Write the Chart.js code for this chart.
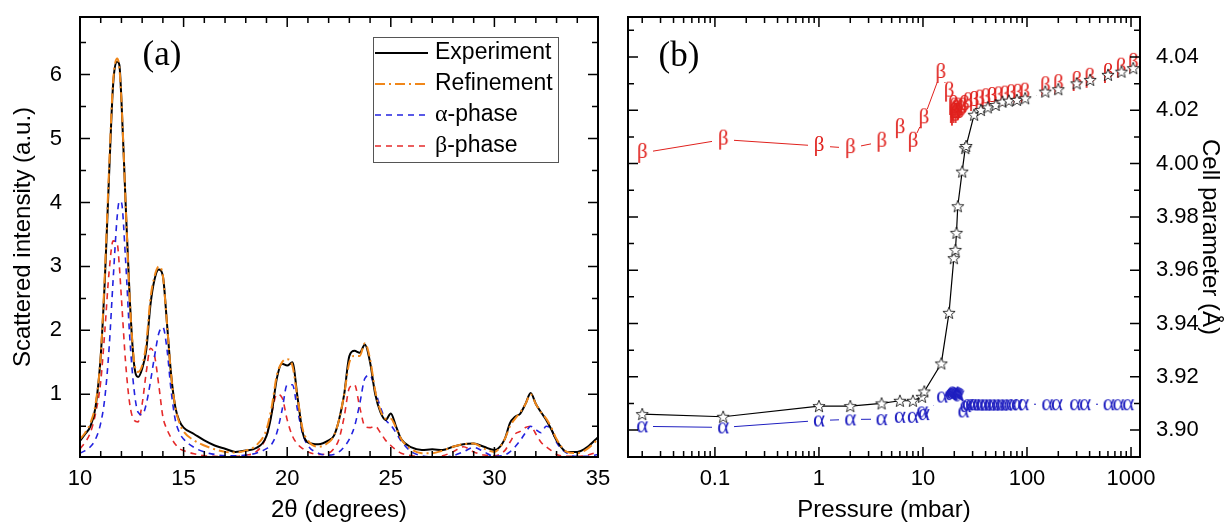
<!DOCTYPE html>
<html>
<head>
<meta charset="utf-8">
<script src="https://cdn.jsdelivr.net/npm/chart.js@4.4.1/dist/chart.umd.min.js"></script>
<style>
html, body { margin: 0; padding: 0; background: #fff; }
#wrap { position: relative; width: 1227px; height: 525px; overflow: hidden; }
canvas { position: absolute; top: 0; }
#cA { left: 0; }
#cB { left: 613px; }
</style>
</head>
<body>
<div id="wrap">
  <canvas id="cA" width="613" height="525"></canvas>
  <canvas id="cB" width="614" height="525"></canvas>
</div>
<script>
// ---------- panel (a): diffraction pattern ----------
const twoTheta = [
  10, 10.25, 10.5, 10.75, 11,
  11.2, 11.4, 11.6, 11.8, 11.9, 12.0,
  12.2, 12.4, 12.6, 12.8, 13.0,
  13.2, 13.4, 13.6, 13.8, 14.0,
  14.2, 14.4, 14.6, 14.8, 15.0,
  15.5, 16, 16.5, 17, 17.5, 18, 18.5,
  19, 19.25, 19.5, 19.75, 20, 20.25, 20.5, 20.75,
  21, 21.5, 22, 22.25, 22.5, 22.75,
  23, 23.25, 23.5, 23.75, 24, 24.25, 24.5, 24.75,
  25, 25.25, 25.5, 26, 26.5, 27, 27.5,
  28, 28.5, 29, 29.5, 30, 30.5, 30.75,
  31, 31.25, 31.5, 31.75, 32, 32.25, 32.5, 32.75,
  33, 33.5, 34, 34.5, 35
];
const experiment = [
  0.27, 0.38, 0.5, 0.8, 1.6,
  2.8, 4.4, 5.85, 6.2, 6.15, 5.6,
  4.0, 2.5, 1.5, 1.27, 1.4,
  1.7, 2.4, 2.8, 2.95, 2.85,
  2.1, 1.3, 0.8, 0.58, 0.48,
  0.38, 0.28, 0.2, 0.15, 0.1, 0.12, 0.16,
  0.35, 0.7, 1.25, 1.48, 1.45, 1.5, 0.95, 0.4,
  0.25, 0.22, 0.28, 0.35, 0.6, 1.0,
  1.6, 1.68, 1.65, 1.78, 1.5, 1.0, 0.72, 0.6,
  0.7, 0.5, 0.3, 0.17, 0.13, 0.14, 0.13,
  0.18, 0.22, 0.23, 0.18, 0.13, 0.3, 0.55,
  0.65, 0.7, 0.85, 1.02, 0.85, 0.72, 0.6, 0.45,
  0.28, 0.1, 0.1, 0.18, 0.33
];
const refinement = [
  0.3, 0.4, 0.55, 0.85, 1.6,
  2.9, 4.5, 5.9, 6.25, 6.1, 5.6,
  4.0, 2.5, 1.55, 1.35, 1.45,
  1.8, 2.5, 2.85, 3.0, 2.85,
  2.1, 1.3, 0.8, 0.55, 0.42,
  0.28, 0.2, 0.14, 0.1, 0.09, 0.12, 0.2,
  0.45, 0.8, 1.3, 1.5, 1.55, 1.45, 0.95, 0.45,
  0.28, 0.18, 0.25, 0.35, 0.6, 1.0,
  1.5, 1.6, 1.6, 1.8, 1.55, 1.05, 0.75, 0.62,
  0.62, 0.48, 0.3, 0.14, 0.08, 0.08, 0.12,
  0.18, 0.22, 0.23, 0.15, 0.1, 0.3, 0.5,
  0.62, 0.72, 0.85, 1.0, 0.85, 0.72, 0.62, 0.48,
  0.3, 0.1, 0.08, 0.15, 0.3
];
const alphaPhase = [
  0.08, 0.12, 0.18, 0.3, 0.55,
  0.95, 1.7, 2.8, 3.8, 4.02, 4.0,
  3.1, 1.9, 1.1, 0.72, 0.68,
  0.85, 1.2, 1.6, 1.95, 2.05,
  1.7, 1.05, 0.6, 0.4, 0.3,
  0.17, 0.1, 0.06, 0.04, 0.04, 0.05, 0.08,
  0.15, 0.22, 0.4, 0.75, 1.15, 1.15, 0.75, 0.38,
  0.2, 0.08, 0.05, 0.06, 0.1, 0.18,
  0.3, 0.5, 0.85, 1.25, 1.3, 1.05, 0.8, 0.6,
  0.52, 0.4, 0.27, 0.1, 0.04, 0.02, 0.02,
  0.04, 0.1, 0.17, 0.1, 0.03, 0.05, 0.1,
  0.18, 0.28, 0.4, 0.5, 0.45, 0.4, 0.5, 0.45,
  0.25, 0.08, 0.03, 0.03, 0.06
];
const betaPhase = [
  0.15, 0.25, 0.4, 0.7, 1.2,
  2.0, 2.9, 3.4, 3.35, 3.0, 2.5,
  1.5, 0.85, 0.6, 0.57, 0.85,
  1.35, 1.72, 1.6, 1.15, 0.65,
  0.45, 0.32, 0.22, 0.15, 0.12,
  0.07, 0.04, 0.03, 0.02, 0.03, 0.05, 0.1,
  0.35, 0.7, 1.0, 0.95, 0.6, 0.35, 0.22, 0.15,
  0.1, 0.06, 0.08, 0.15, 0.3, 0.65,
  1.1, 1.15, 0.8, 0.5, 0.48, 0.5, 0.4, 0.28,
  0.2, 0.13, 0.08, 0.04, 0.02, 0.02, 0.04,
  0.1, 0.18, 0.1, 0.05, 0.04, 0.12, 0.25,
  0.38, 0.42, 0.48, 0.5, 0.38, 0.25, 0.18, 0.12,
  0.06, 0.03, 0.03, 0.05, 0.1
];

// ---------- panel (b): cell parameter vs pressure ----------
const starP = [0.02, 0.12, 1, 2, 4, 6, 8, 9.8, 10.3, 15,
  17.8, 19.8, 20.5, 21, 21.6, 23.8, 25.5, 26, 31, 36,
  42, 50, 58, 67, 80, 96, 150, 200, 300, 405,
  600, 810, 1050];
const starCell = [3.906, 3.905, 3.909, 3.909, 3.910, 3.911, 3.911, 3.9125, 3.9145, 3.925,
  3.944, 3.9645, 3.9676, 3.974, 3.984, 3.997, 4.0058, 4.0066, 4.0183, 4.0201,
  4.0211, 4.022, 4.0232, 4.0236, 4.0239, 4.0245, 4.027, 4.0279, 4.0301, 4.0314,
  4.0333, 4.0345, 4.0358];

const betaP = [0.02, 0.12, 1, 2, 4, 6, 8, 10.2, 14.8, 17.8,
  19.5, 19.8, 20, 20.3, 20.6, 21, 21.5, 22, 23, 24,
  25, 27, 31, 35, 40, 46, 53, 61, 70, 81,
  95, 150, 200, 300, 400, 600, 800, 1050];
const betaCell = [4.004, 4.009, 4.0066, 4.0058, 4.0082, 4.0133, 4.0082, 4.017, 4.034, 4.027,
  4.022, 4.019, 4.021, 4.018, 4.02, 4.019, 4.021, 4.019, 4.02, 4.021,
  4.022, 4.023, 4.0235, 4.024, 4.0245, 4.025, 4.0252, 4.0255, 4.026, 4.0262,
  4.0266, 4.029, 4.0298, 4.031, 4.0322, 4.034, 4.036, 4.0378];

const alphaP = [0.02, 0.12, 1, 2, 4, 6, 8, 9.85, 10.2, 15.3,
  18.5, 19, 19.5, 20, 20.5, 21, 21.5, 22, 24.5, 25.7,
  27, 29, 31, 34, 37, 40, 44, 48, 53, 58,
  64, 71, 80, 92, 157, 194, 291, 362, 610, 756,
  940];
const alphaCell = [3.9014, 3.901, 3.9036, 3.904, 3.9041, 3.905, 3.905, 3.907, 3.906, 3.9126,
  3.9135, 3.914, 3.9145, 3.9142, 3.914, 3.9138, 3.9135, 3.913, 3.907, 3.909,
  3.9097, 3.9097, 3.9097, 3.9096, 3.9096, 3.9096, 3.9096, 3.9096, 3.9096, 3.9096,
  3.9096, 3.9097, 3.9097, 3.9097, 3.9097, 3.9097, 3.9097, 3.9097, 3.9097, 3.9097,
  3.9097];

// tick labels
const xTicksA = [10, 15, 20, 25, 30, 35];
const yTicksA = [1, 2, 3, 4, 5, 6];
const xTicksB = [0.1, 1, 10, 100, 1000];
const yTicksB = [3.90, 3.92, 3.94, 3.96, 3.98, 4.00, 4.02, 4.04];

const SANS = "'Liberation Sans', Arial, sans-serif";
const SERIF = "'Liberation Serif', 'Times New Roman', serif";
Chart.defaults.font.family = SANS;
Chart.defaults.font.size = 22;
Chart.defaults.color = '#000';

const RED = '#E0211D', BLUE = '#1F1FC0';

function pts(xs, ys) { return xs.map((x, i) => ({x: x, y: ys[i]})); }
function steps(a, b, s) { const r = []; for (let v = a; v <= b + 1e-9; v += s) r.push(+v.toFixed(6)); return r; }
function logMinor(a, b) {
  const r = [];
  for (let e = Math.floor(Math.log10(a)); e <= Math.ceil(Math.log10(b)); e++)
    for (let m = 2; m <= 9; m++) { const v = m * Math.pow(10, e); if (v > a && v < b) r.push(v); }
  return r;
}

// marker images
function glyph(ch, color, size) {
  const c = document.createElement('canvas');
  c.width = 20; c.height = 26;
  const g = c.getContext('2d');
  g.font = size + 'px ' + SERIF;
  g.fillStyle = color;
  g.textAlign = 'center';
  g.textBaseline = 'alphabetic';
  const m = g.measureText(ch);
  g.fillText(ch, 10, 13 + (m.actualBoundingBoxAscent - m.actualBoundingBoxDescent) / 2);
  return c;
}
function blank(w, h) {
  const c = document.createElement('canvas');
  c.width = w; c.height = h;
  const g = c.getContext('2d');
  g.fillStyle = '#fff';
  g.fillRect(0, 0, w, h);
  return c;
}
function star() {
  const c = document.createElement('canvas');
  c.width = 16; c.height = 16;
  const g = c.getContext('2d');
  g.beginPath();
  for (let i = 0; i < 10; i++) {
    const r = i % 2 ? 2.7 : 6.4;
    const a = -Math.PI / 2 + i * Math.PI / 5;
    g.lineTo(8 + r * Math.cos(a), 8.5 + r * Math.sin(a));
  }
  g.closePath();
  g.fillStyle = '#fff'; g.fill();
  g.lineWidth = 0.8; g.strokeStyle = '#000'; g.stroke();
  return c;
}

// frame + inward ticks + panel tag
const frameTicks = {
  id: 'frameTicks',
  afterDatasetsDraw(chart, args, o) {
    const {ctx, chartArea: a} = chart;
    const xs = chart.scales.x, ys = chart.scales.y;
    ctx.save();
    ctx.strokeStyle = '#000';
    ctx.lineWidth = 1.5;
    ctx.beginPath();
    const tx = (v, len) => {
      const p = xs.getPixelForValue(v);
      if (p < a.left + 1 || p > a.right - 1) return;
      ctx.moveTo(p, a.bottom); ctx.lineTo(p, a.bottom - len);
      ctx.moveTo(p, a.top); ctx.lineTo(p, a.top + len);
    };
    const ty = (v, len) => {
      const p = ys.getPixelForValue(v);
      if (p < a.top + 1 || p > a.bottom - 1) return;
      ctx.moveTo(a.left, p); ctx.lineTo(a.left + len, p);
      ctx.moveTo(a.right, p); ctx.lineTo(a.right - len, p);
    };
    o.xMajor.forEach(v => tx(v, 10));
    o.xMinor.forEach(v => tx(v, 6));
    o.yMajor.forEach(v => ty(v, 10));
    o.yMinor.forEach(v => ty(v, 6));
    ctx.stroke();
    ctx.lineWidth = 2;
    ctx.strokeRect(a.left, a.top, a.width, a.height);
    ctx.fillStyle = '#000';
    ctx.font = '35px ' + SERIF;
    ctx.textAlign = 'center';
    ctx.textBaseline = 'middle';
    ctx.fillText(o.tag, a.left + o.tagDx, a.top + o.tagDy);
    ctx.restore();
  }
};

// legend box drawn inside panel (a)
const boxLegend = {
  id: 'boxLegend',
  afterDraw(chart, args, o) {
    if (!o.show) return;
    const {ctx, chartArea: a} = chart;
    const x0 = a.left + 293, y0 = a.top + 20, w = 185, h = 125;
    ctx.save();
    ctx.fillStyle = '#fff';
    ctx.fillRect(x0, y0, w, h);
    ctx.strokeStyle = '#555';
    ctx.lineWidth = 1;
    ctx.strokeRect(x0 + 0.5, y0 + 0.5, w, h);
    chart.data.datasets.forEach((ds, k) => {
      const yy = y0 + 16 + k * 31;
      ctx.strokeStyle = ds.borderColor;
      ctx.lineWidth = ds.borderWidth;
      ctx.setLineDash(ds.borderDash || []);
      ctx.beginPath(); ctx.moveTo(x0 + 2, yy); ctx.lineTo(x0 + 55, yy); ctx.stroke();
      ctx.setLineDash([]);
      ctx.fillStyle = '#000';
      ctx.textBaseline = 'middle';
      ctx.textAlign = 'left';
      let tx = x0 + 62;
      let label = ds.label;
      if (/^[α-ω]/.test(label)) {
        ctx.font = '24px ' + SERIF;
        ctx.fillText(label[0], tx, yy);
        tx += ctx.measureText(label[0]).width;
        label = label.slice(1);
      }
      ctx.font = '23px ' + SANS;
      ctx.fillText(label, tx, yy);
    });
    ctx.restore();
  }
};

// ---- chart (a) ----
new Chart(document.getElementById('cA'), {
  type: 'line',
  data: {
    datasets: [
      { label: 'Experiment', data: pts(twoTheta, experiment), borderColor: '#000', borderWidth: 2, order: 1 },
      { label: 'Refinement', data: pts(twoTheta, refinement), borderColor: '#F0871A', borderWidth: 2, borderDash: [10, 4, 2, 4], order: 0 },
      { label: 'α-phase', data: pts(twoTheta, alphaPhase), borderColor: '#2323E0', borderWidth: 1.6, borderDash: [6, 5], order: 2 },
      { label: 'β-phase', data: pts(twoTheta, betaPhase), borderColor: '#E52A2A', borderWidth: 1.6, borderDash: [6, 5], order: 3 }
    ]
  },
  options: {
    responsive: false,
    animation: false,
    layout: { autoPadding: false, padding: { left: 0, top: 17, right: 15, bottom: 0 } },
    elements: { point: { radius: 0 }, line: { cubicInterpolationMode: 'monotone', fill: false } },
    plugins: {
      legend: { display: false },
      tooltip: { enabled: false },
      frameTicks: { xMajor: xTicksA, xMinor: steps(10, 35, 1), yMajor: yTicksA, yMinor: steps(0.5, 6.5, 1), tag: '(a)', tagDx: 82, tagDy: 39 },
      boxLegend: { show: true }
    },
    scales: {
      x: {
        type: 'linear', min: 10, max: 35,
        grid: { display: false }, border: { display: false },
        ticks: { stepSize: 5, padding: 1, maxRotation: 0, autoSkip: false,
          callback: v => xTicksA.includes(v) ? String(v) : '' },
        title: { display: true, text: '2θ (degrees)', font: { size: 24 }, padding: { top: 0, bottom: 0 } },
        afterFit: s => { s.height = 68; s.paddingLeft = 0; s.paddingRight = 0; }
      },
      y: {
        type: 'linear', min: 0.02, max: 6.9,
        grid: { display: false }, border: { display: false },
        ticks: { stepSize: 1, padding: 10, autoSkip: false,
          callback: v => yTicksA.includes(v) ? String(v) : '' },
        title: { display: true, text: 'Scattered intensity (a.u.)', font: { size: 24 }, padding: { top: 9, bottom: 0 } },
        afterFit: s => { s.width = 80; s.paddingTop = 0; s.paddingBottom = 0; }
      }
    }
  },
  plugins: [frameTicks, boxLegend]
});

// ---- chart (b) ----
// lines first, then white gaps behind the character symbols, then the symbols
const lineOnly = { pointRadius: 0, fill: false };
const symOnly = { showLine: false, pointRadius: 5 };
new Chart(document.getElementById('cB'), {
  type: 'line',
  data: {
    datasets: [
      Object.assign({ label: 'a', data: pts(starP, starCell), borderColor: '#000', borderWidth: 1.2, order: 7 }, lineOnly),
      Object.assign({ label: 'β', data: pts(betaP, betaCell), borderColor: RED, borderWidth: 1, order: 6 }, lineOnly),
      Object.assign({ label: 'α', data: pts(alphaP, alphaCell), borderColor: BLUE, borderWidth: 1, order: 5 }, lineOnly),
      Object.assign({ label: 'β gap', data: pts(betaP, betaCell), pointStyle: blank(22, 18), order: 4 }, symOnly),
      Object.assign({ label: 'α gap', data: pts(alphaP, alphaCell), pointStyle: blank(22, 16), order: 3 }, symOnly),
      Object.assign({ label: 'β sym', data: pts(betaP, betaCell), pointStyle: glyph('β', RED, 21), order: 2 }, symOnly),
      Object.assign({ label: 'α sym', data: pts(alphaP, alphaCell), pointStyle: glyph('α', BLUE, 23), order: 1 }, symOnly),
      Object.assign({ label: 'a sym', data: pts(starP, starCell), pointStyle: star(), order: 0 }, symOnly)
    ]
  },
  options: {
    responsive: false,
    animation: false,
    layout: { autoPadding: false, padding: { left: 15, top: 17, right: 0, bottom: 0 } },
    elements: { line: { tension: 0, fill: false } },
    plugins: {
      legend: { display: false },
      tooltip: { enabled: false },
      frameTicks: { xMajor: xTicksB, xMinor: logMinor(0.0146, 1220), yMajor: steps(3.90, 4.04, 0.02), yMinor: steps(3.89, 4.05, 0.02), tag: '(b)', tagDx: 51, tagDy: 40 },
      boxLegend: { show: false }
    },
    scales: {
      x: {
        type: 'logarithmic', min: 0.0146, max: 1220,
        grid: { display: false }, border: { display: false },
        ticks: { padding: 1, maxRotation: 0, autoSkip: false,
          callback: v => { const t = xTicksB.find(d => Math.abs(v - d) / d < 1e-6); return t === undefined ? '' : String(t); } },
        title: { display: true, text: 'Pressure (mbar)', font: { size: 24 }, padding: { top: 0, bottom: 0 } },
        afterFit: s => { s.height = 68; s.paddingLeft = 0; s.paddingRight = 0; }
      },
      y: {
        type: 'linear', position: 'right', min: 3.8899, max: 4.055,
        grid: { display: false }, border: { display: false },
        ticks: { stepSize: 0.02, padding: 8, autoSkip: false,
          callback: v => { const t = yTicksB.find(d => Math.abs(v - d) < 1e-6); return t === undefined ? '' : t.toFixed(2); } },
        title: { display: true, text: 'Cell parameter (Å)', font: { size: 24 }, padding: { top: 3, bottom: 0 } },
        afterFit: s => { s.width = 87; s.paddingTop = 0; s.paddingBottom = 0; }
      }
    }
  },
  plugins: [frameTicks, boxLegend]
});
</script>
</body>
</html>
